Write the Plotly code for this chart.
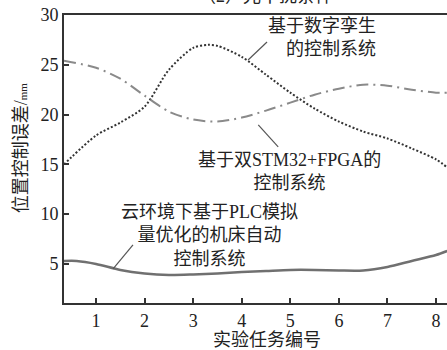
import plotly.graph_objects as go

# Data
x_twin = [0.34, 1, 1.5, 2, 2.5, 3, 3.3, 3.5, 4, 4.5, 5, 5.5, 6, 6.5, 7, 7.5, 8, 8.23]
y_twin = [15.0, 17.9, 19.2, 20.8, 24.5, 26.7, 27.0, 26.9, 25.8, 24.0, 22.2, 20.6, 19.3, 18.3, 17.6, 16.6, 15.5, 14.7]

x_stm = [0.34, 1, 1.5, 2, 2.5, 3, 3.5, 4, 4.5, 5, 5.5, 6, 6.5, 7, 7.5, 8, 8.23]
y_stm = [25.4, 24.7, 23.6, 21.9, 20.3, 19.5, 19.3, 19.7, 20.4, 21.2, 22.0, 22.6, 23.0, 22.9, 22.5, 22.2, 22.2]

x_plc = [0.34, 0.6, 1, 1.5, 2, 2.5, 3, 3.5, 4, 4.5, 5, 5.5, 6, 6.5, 7, 7.5, 8, 8.23]
y_plc = [5.3, 5.3, 5.0, 4.4, 4.05, 3.9, 3.95, 4.05, 4.2, 4.3, 4.4, 4.4, 4.35, 4.35, 4.7, 5.3, 5.9, 6.3]

x_ticks = [1, 2, 3, 4, 5, 6, 7, 8]
y_ticks = [5, 10, 15, 20, 25, 30]

label_twin = "基于数字孪生<br>的控制系统"
label_stm = "基于双STM32+FPGA的<br>控制系统"
label_plc = "云环境下基于PLC模拟<br>量优化的机床自动<br>控制系统"
x_title = "实验任务编号"
y_title = "位置控制误差/<span style='font-size:11px'>mm</span>"
top_title = "（2）光干扰条件"

FONT = "'Liberation Serif', 'Noto Sans CJK SC', serif"
TICK_FONT = "Liberation Serif"

fig = go.Figure()
fig.add_trace(go.Scatter(x=x_twin, y=y_twin, mode="lines",
                         line=dict(color="#333333", width=2, dash="2px,2px", shape="spline", smoothing=0.8)))
fig.add_trace(go.Scatter(x=x_stm, y=y_stm, mode="lines",
                         line=dict(color="#8a8a8a", width=2, dash="12px,5px,2px,5px", shape="spline", smoothing=0.8)))
fig.add_trace(go.Scatter(x=x_plc, y=y_plc, mode="lines",
                         line=dict(color="#707070", width=2.5, shape="spline", smoothing=0.8)))

# pointer lines
for (x0, y0, x1, y1) in [(4.13, 25.48, 4.52, 27.29), (4.34, 18.96, 4.75, 16.75), (1.35, 4.50, 1.76, 6.91)]:
    fig.add_shape(type="line", x0=x0, y0=y0, x1=x1, y1=y1, xref="x", yref="y",
                  line=dict(color="#555555", width=1.2))

ann_font = dict(family=FONT, size=18, color="#222222")
fig.add_annotation(x=6.806, y=27.79, text=label_twin, showarrow=False, xanchor="right",
                   yanchor="middle", align="right", font=ann_font)
fig.add_annotation(x=4.99, y=14.24, text=label_stm, showarrow=False, xanchor="center",
                   yanchor="middle", align="center", font=ann_font)
fig.add_annotation(x=3.33, y=7.86, text=label_plc, showarrow=False, xanchor="center",
                   yanchor="middle", align="center", font=ann_font)

# axis titles
fig.add_annotation(x=-0.11, y=0.54, xref="paper", yref="paper", text=y_title, textangle=-90,
                   showarrow=False, xanchor="center", yanchor="middle", font=ann_font)
fig.add_annotation(x=0.53, y=-0.128, xref="paper", yref="paper", text=x_title,
                   showarrow=False, xanchor="center", yanchor="middle", font=ann_font)
fig.add_annotation(x=0.525, y=1.0, xref="paper", yref="paper", text=top_title, yshift=7,
                   showarrow=False, xanchor="center", yanchor="bottom", font=ann_font)

fig.update_layout(
    width=447, height=350,
    margin=dict(l=64, r=0, t=15, b=47),
    plot_bgcolor="white", paper_bgcolor="white",
    showlegend=False,
    font=dict(family=FONT, size=17, color="#222222"),
)
fig.update_xaxes(range=[0.34, 8.226], tickvals=x_ticks, ticks="inside", ticklen=5, tickwidth=1.5,
                 tickcolor="#333333", showline=True, linecolor="#333333", linewidth=2, mirror=True,
                 showgrid=False, zeroline=False, tickfont=dict(family=TICK_FONT, size=18),
                 ticklabeloverflow="allow")
fig.update_yaxes(range=[1.08, 30], tickvals=y_ticks, ticks="inside", ticklen=5, tickwidth=1.5,
                 tickcolor="#333333", showline=True, linecolor="#333333", linewidth=2,
                 showgrid=False, zeroline=False, tickfont=dict(family=TICK_FONT, size=18))

fig.write_html("out.html", config={"displayModeBar": False},
               post_script="document.body.style.margin='0px';")
